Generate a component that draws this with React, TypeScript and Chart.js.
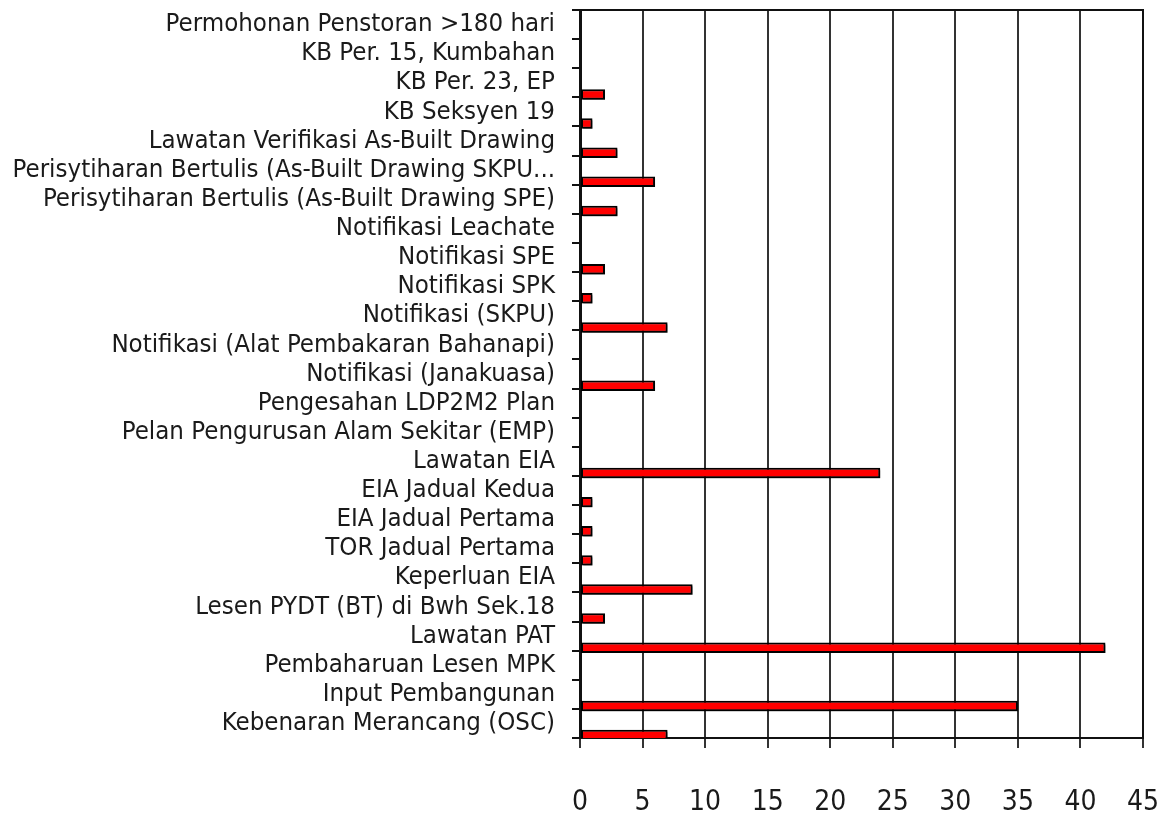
import React, { useEffect, useRef } from 'react';
import { Chart, registerables } from 'chart.js';

Chart.register(...registerables);

const categories: string[] = [
  'Permohonan Penstoran >180 hari',
  'KB Per. 15, Kumbahan',
  'KB Per. 23, EP',
  'KB Seksyen 19',
  'Lawatan Verifikasi As-Built Drawing',
  'Perisytiharan Bertulis (As-Built Drawing SKPU...',
  'Perisytiharan Bertulis (As-Built Drawing SPE)',
  'Notifikasi Leachate',
  'Notifikasi SPE',
  'Notifikasi SPK',
  'Notifikasi (SKPU)',
  'Notifikasi (Alat Pembakaran Bahanapi)',
  'Notifikasi (Janakuasa)',
  'Pengesahan LDP2M2 Plan',
  'Pelan Pengurusan Alam Sekitar (EMP)',
  'Lawatan EIA',
  'EIA Jadual Kedua',
  'EIA Jadual Pertama',
  'TOR Jadual Pertama',
  'Keperluan EIA',
  'Lesen PYDT (BT) di Bwh Sek.18',
  'Lawatan PAT',
  'Pembaharuan Lesen MPK',
  'Input Pembangunan',
  'Kebenaran Merancang (OSC)',
];

const counts: number[] = [0, 0, 2, 1, 3, 6, 3, 0, 2, 1, 7, 0, 6, 0, 0, 24, 1, 1, 1, 9, 2, 42, 0, 35, 7];

const xMin = 0;
const xMax = 45;
const xStep = 5;

const FONT = "'Liberation Sans Narrow', 'DejaVu Sans Condensed', sans-serif";

const framePlugin = {
  id: 'frame',
  beforeDatasetsDraw(chart: any) {
    const { ctx, chartArea } = chart;
    ctx.save();
    ctx.strokeStyle = '#111';
    ctx.lineWidth = 2;
    ctx.beginPath();
    ctx.moveTo(chartArea.left, chartArea.top);
    ctx.lineTo(chartArea.right, chartArea.top);
    ctx.lineTo(chartArea.right, chartArea.bottom);
    ctx.stroke();
    ctx.restore();
  },
};

const shadowPlugin = {
  id: 'barShadow',
  beforeDatasetDraw(chart: any) {
    const ctx = chart.ctx;
    ctx.save();
    ctx.shadowColor = 'rgba(0,0,0,0.6)';
    ctx.shadowOffsetX = 2;
    ctx.shadowOffsetY = 2;
    ctx.shadowBlur = 2;
  },
  afterDatasetDraw(chart: any) {
    chart.ctx.restore();
  },
};

export default function App() {
  const ref = useRef<HTMLCanvasElement | null>(null);

  useEffect(() => {
    if (!ref.current) return;
    const empty = () => ({
      data: [] as number[],
      backgroundColor: 'transparent',
      borderWidth: 0,
      categoryPercentage: 1,
      barPercentage: 1,
    });
    const chart = new Chart(ref.current, {
      type: 'bar',
      data: {
        labels: categories,
        datasets: [
          empty(),
          empty(),
          empty(),
          empty(),
          {
            label: 'Bilangan',
            data: counts,
            backgroundColor: '#ff0000',
            borderColor: '#000000',
            borderWidth: 2,
            borderSkipped: false,
            categoryPercentage: 1,
            barPercentage: 1.8,
          },
        ],
      },
      options: {
        indexAxis: 'y',
        responsive: false,
        animation: false,
        layout: { padding: { top: 10, right: 21, left: 0, bottom: 0 } },
        plugins: {
          legend: { display: false },
          tooltip: { enabled: false },
        },
        scales: {
          x: {
            type: 'linear',
            min: xMin,
            max: xMax,
            afterFit: (scale: any) => {
              scale.height = 76;
              scale.paddingLeft = 0;
              scale.paddingRight = 0;
            },
            ticks: {
              stepSize: xStep,
              padding: 38,
              color: '#1a1a1a',
              font: { family: FONT, size: 28 },
            },
            grid: {
              color: '#333333',
              lineWidth: 2,
              tickLength: 10,
              drawTicks: true,
            },
            border: { color: '#111', width: 2 },
          },
          y: {
            type: 'category',
            afterFit: (scale: any) => {
              scale.width = 580;
              scale.paddingTop = 0;
              scale.paddingBottom = 0;
            },
            ticks: {
              padding: 17,
              color: '#1a1a1a',
              font: { family: FONT, size: 25.6 },
              autoSkip: false,
            },
            grid: {
              offset: true,
              drawOnChartArea: false,
              drawTicks: true,
              tickLength: 8,
              color: '#111',
              lineWidth: 2,
            },
            border: { color: '#111', width: 3 },
          },
        },
      },
      plugins: [framePlugin, shadowPlugin],
    });
    return () => chart.destroy();
  }, []);

  return (
    <div style={{ position: 'absolute', left: 0, top: 0, width: 1164, height: 814, background: '#fff' }}>
      <canvas ref={ref} width={1164} height={814} style={{ display: 'block' }} />
    </div>
  );
}
